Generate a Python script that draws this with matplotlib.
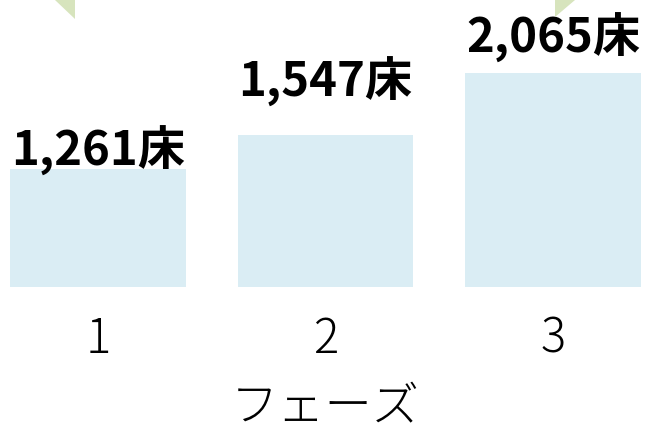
import matplotlib
matplotlib.use("Agg")
import matplotlib.pyplot as plt
from matplotlib.patches import Polygon

plt.rcParams['font.family'] = ['Noto Sans CJK JP', 'DejaVu Sans']

phases = ["1", "2", "3"]
beds = [1261, 1547, 2065]
bed_labels = ["1,261床", "1,547床", "2,065床"]
label_offsets = [-5, 20, 7]  # points above bar top

bar_color = "#daedf4"
arrow_color = "#d7e4bd"

fig = plt.figure(figsize=(6.51, 4.33), dpi=100)
ax = fig.add_axes([0, 0.337, 1, 0.663])

x = list(range(len(phases)))
bars = ax.bar(x, beds, width=0.77, color=bar_color, edgecolor="none")

ax.set_xlim(-0.43, 2.43)
ax.set_ylim(281, 2673)

for rect, lab, off in zip(bars, bed_labels, label_offsets):
    ax.annotate(lab, (rect.get_x() + rect.get_width() / 2, rect.get_height()),
                xytext=(0, off), textcoords="offset points",
                ha="center", va="bottom", fontsize=34, fontweight="bold",
                color="black")

ax.set_xticks(x)
ax.set_xticklabels(phases, fontsize=34, fontweight="light")
ax.tick_params(axis="x", length=0, pad=20)
ax.set_yticks([])
ax.set_xlabel("フェーズ", fontsize=34, fontweight="light", labelpad=14)
for s in ax.spines.values():
    s.set_visible(False)

# decorative arrow tips at the top (figure pixel coordinates)
W, H = 651, 433
tri1 = [(55, 0), (75, 0), (75, 19)]
tri2 = [(555, 0), (575, 0), (555, 17)]
for tri in (tri1, tri2):
    pts = [(px / W, 1 - py / H) for px, py in tri]
    fig.patches.append(Polygon(pts, closed=True, transform=fig.transFigure,
                               facecolor=arrow_color, edgecolor="none"))

fig.savefig("out.png", dpi=100)
